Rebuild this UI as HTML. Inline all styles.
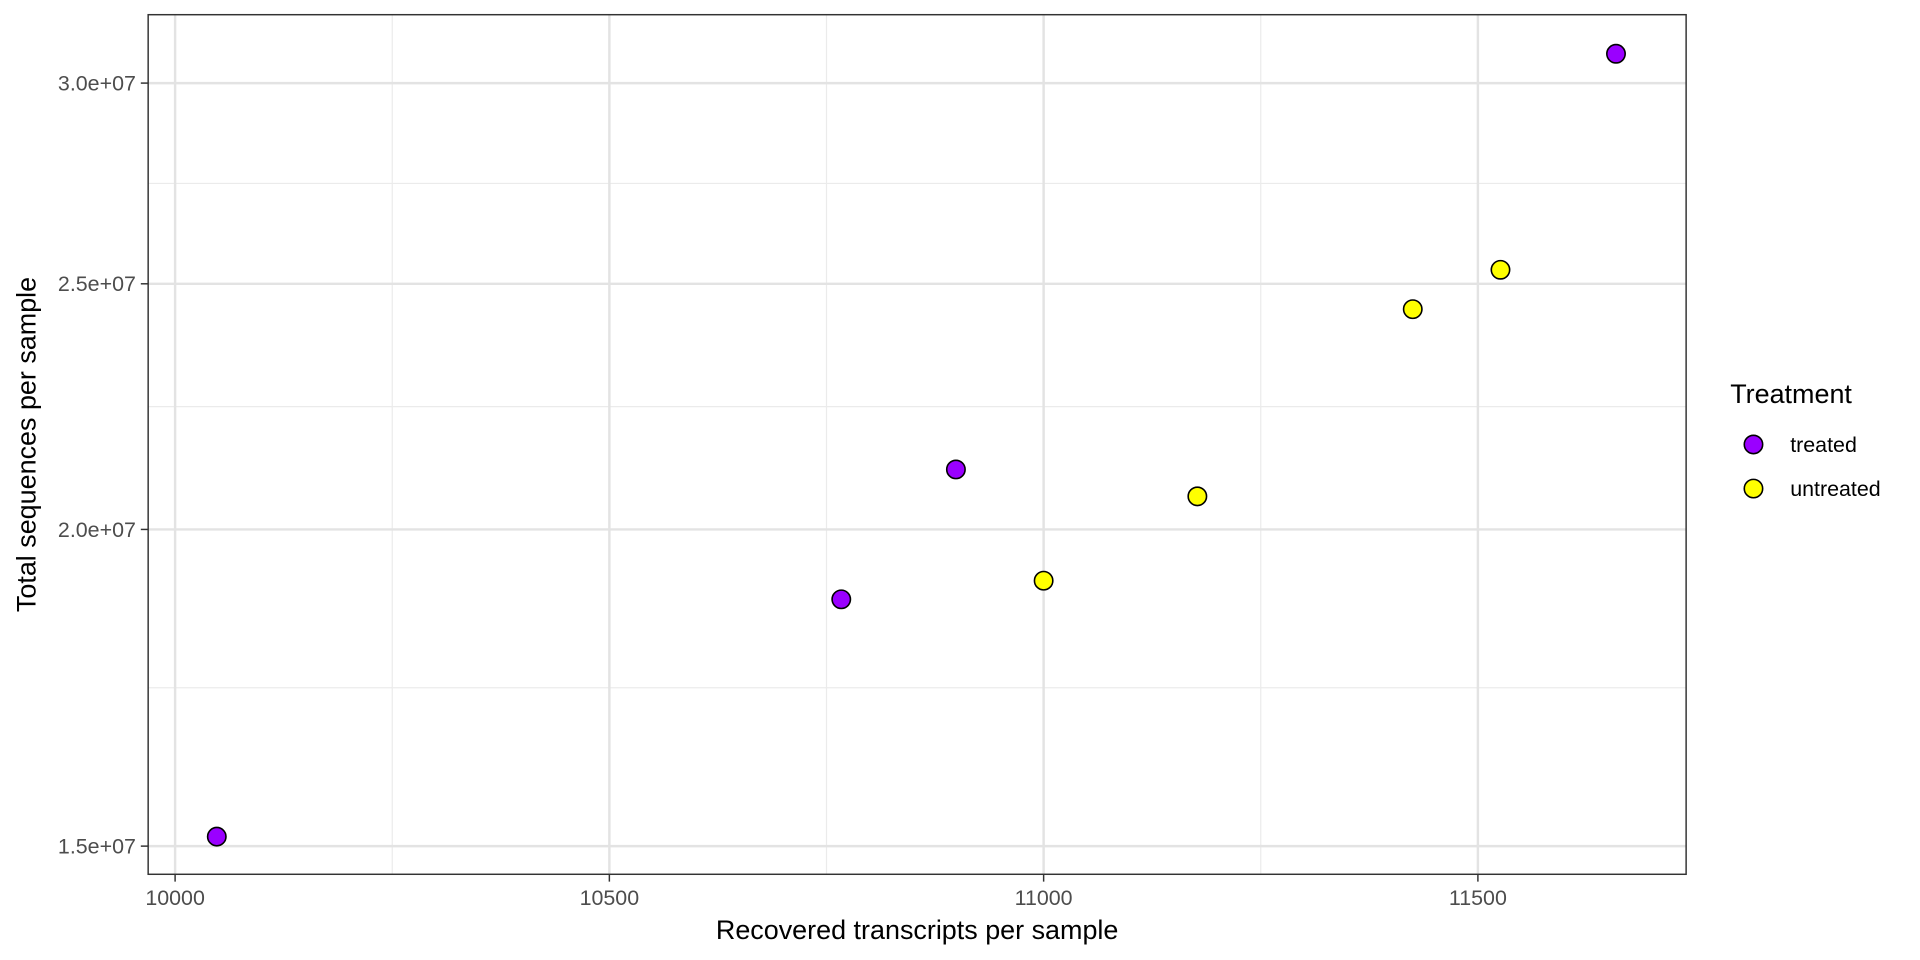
<!DOCTYPE html>
<html><head><meta charset="utf-8"><style>
body{margin:0;background:#fff;}
svg{display:block;}
svg text{font-family:"Liberation Sans",Arial,sans-serif;}
</style></head><body>
<svg id="chart" width="1920" height="960" viewBox="0 0 1568 784">
<rect x="0" y="0" width="1568" height="784" fill="#fff"/>
<g id="grid"></g>
<g id="axes"></g>
<g id="points"></g>
<rect x="121" y="12" width="1256" height="702" fill="none" stroke="#333" stroke-width="1.2"/>
<text x="749" y="767" font-size="22" text-anchor="middle" fill="#000">Recovered transcripts per sample</text>
<text x="0" y="0" font-size="22" text-anchor="middle" fill="#000" transform="translate(29,363) rotate(-90)">Total sequences per sample</text>
<g>
<text x="1413" y="329" font-size="22" fill="#000">Treatment</text>
<g>
<circle cx="1432" cy="363" r="7.5" fill="#9A00FF" stroke="#000" stroke-width="1.3"/>
<text x="1462" y="369" font-size="17.5" fill="#000">treated</text></g>
<g>
<circle cx="1432" cy="399" r="7.5" fill="#FFFF00" stroke="#000" stroke-width="1.3"/>
<text x="1462" y="405" font-size="17.5" fill="#000">untreated</text></g>
</g>
</svg>
<script>
const xValues=[10048,10767,10899,11659,11000,11177,11425,11526];
const yValues=[1.513e7,1.877e7,2.112e7,3.081e7,1.909e7,2.061e7,2.443e7,2.532e7];
const groups=["treated","treated","treated","treated","untreated","untreated","untreated","untreated"];
const xTicks=[10000,10500,11000,11500];
const xTickLabels=["10000","10500","11000","11500"];
const yTicks=[1.5e7,2.0e7,2.5e7,3.0e7];
const yTickLabels=["1.5e+07","2.0e+07","2.5e+07","3.0e+07"];
const colors={treated:"#9A00FF",untreated:"#FFFF00"};
const NS="http://www.w3.org/2000/svg";
function xs(v){return 143+(v-10000)*0.7093;}
function ys(v){return 691-Math.log(v/1.5e7)*899;}
function mk(tag,attrs,parent){const e=document.createElementNS(NS,tag);for(const k in attrs)e.setAttribute(k,attrs[k]);parent.appendChild(e);return e;}
const grid=document.getElementById('grid'),axes=document.getElementById('axes'),pts=document.getElementById('points');
for(let i=0;i<xTicks.length;i++){
  const mv=xTicks[i]+250;const mx=xs(mv);
  if(mx<1377){const l=mk('line',{x1:mx,x2:mx,y1:12,y2:714,stroke:'#ebebeb','stroke-width':1},grid);
  
  }
}
for(let i=0;i<yTicks.length-1;i++){
  const my=(ys(yTicks[i])+ys(yTicks[i+1]))/2;
  const l=mk('line',{x1:121,x2:1377,y1:my,y2:my,stroke:'#ebebeb','stroke-width':1},grid);
  
  
}
xTicks.forEach((t,i)=>{const x=xs(t);
  const l=mk('line',{x1:x,x2:x,y1:12,y2:714,stroke:'#e3e3e3','stroke-width':2},grid);
  
  
  mk('line',{x1:x,x2:x,y1:714,y2:720,stroke:'#333','stroke-width':1.2},axes);
  const tx=mk('text',{x:x,y:739,'font-size':17.5,'text-anchor':'middle',fill:'#4d4d4d'},axes);
  tx.textContent=xTickLabels[i];
  
  
});
yTicks.forEach((t,i)=>{const y=ys(t);
  const l=mk('line',{x1:121,x2:1377,y1:y,y2:y,stroke:'#e3e3e3','stroke-width':2},grid);
  
  
  mk('line',{x1:115,x2:121,y1:y,y2:y,stroke:'#333','stroke-width':1.2},axes);
  const tx=mk('text',{x:111,y:y+6,'font-size':17.5,'text-anchor':'end',fill:'#4d4d4d'},axes);
  tx.textContent=yTickLabels[i];
  
  
});
xValues.forEach((v,i)=>{
  const c=mk('circle',{cx:xs(v),cy:ys(yValues[i]),r:7.5,fill:colors[groups[i]],stroke:'#000','stroke-width':1.3},pts);
  
  
});
</script>
</body></html>
